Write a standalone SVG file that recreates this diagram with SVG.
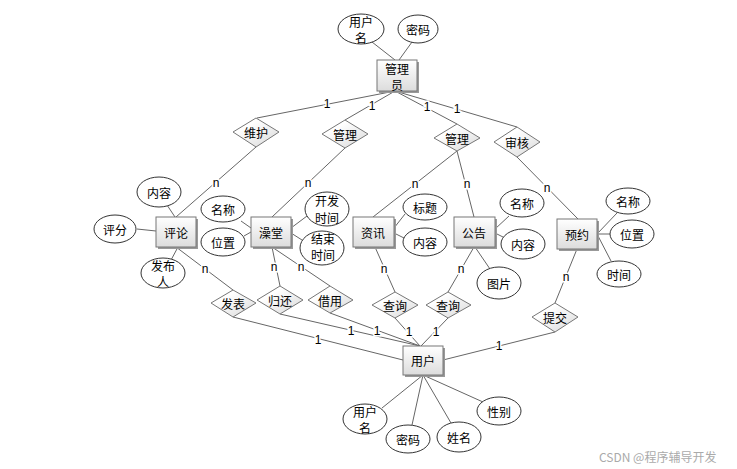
<svg xmlns="http://www.w3.org/2000/svg" width="737" height="469" viewBox="0 0 737 469">
<defs>
<linearGradient id="gb" x1="0" y1="0" x2="0" y2="1"><stop offset="0" stop-color="#ffffff"/><stop offset="1" stop-color="#dcdcdc"/></linearGradient>
<linearGradient id="gd" x1="0" y1="0" x2="1" y2="1"><stop offset="0.3" stop-color="#ffffff"/><stop offset="1" stop-color="#d8d8d8"/></linearGradient>
</defs>
<style>
text{font-family:"Noto Sans CJK SC","Microsoft YaHei",sans-serif;font-size:12px;fill:#000;text-anchor:middle;dominant-baseline:central}
.box{fill:url(#gb);stroke:#777;stroke-width:1}
.sh{fill:#999}
.dia{fill:url(#gd);stroke:#777;stroke-width:1}
.ell{fill:#fff;stroke:#333;stroke-width:1}
#connectors line{stroke:#666;stroke-width:1}
.lab{font-family:"Liberation Sans",Arial,sans-serif;font-size:12px;stroke:#fff;stroke-width:3;paint-order:stroke}
.wm{font-size:12px;fill:#aaa;text-anchor:start}
</style>
<rect width="737" height="469" fill="#fff"/>
<g id="connectors">
<line x1="372" y1="42" x2="395" y2="60"/>
<line x1="412" y1="42" x2="399" y2="60"/>
<line x1="395" y1="91" x2="257" y2="118"/>
<line x1="395" y1="91" x2="345" y2="120"/>
<line x1="395" y1="91" x2="457" y2="124"/>
<line x1="395" y1="91" x2="517" y2="127"/>
<line x1="256" y1="147" x2="176" y2="217"/>
<line x1="345" y1="148" x2="272" y2="217"/>
<line x1="457" y1="151" x2="373" y2="217"/>
<line x1="457" y1="151" x2="474" y2="217"/>
<line x1="517" y1="157" x2="578" y2="219"/>
<line x1="167" y1="205" x2="175" y2="217"/>
<line x1="137" y1="229" x2="156" y2="231"/>
<line x1="178" y1="247" x2="170" y2="262"/>
<line x1="176" y1="247" x2="233" y2="290"/>
<line x1="241" y1="221" x2="251" y2="228"/>
<line x1="244" y1="236" x2="251" y2="232"/>
<line x1="291" y1="228" x2="307" y2="216"/>
<line x1="291" y1="233" x2="302" y2="240"/>
<line x1="394" y1="228" x2="405" y2="214"/>
<line x1="394" y1="233" x2="404" y2="238"/>
<line x1="495" y1="229" x2="509" y2="216"/>
<line x1="495" y1="233" x2="503" y2="237"/>
<line x1="475" y1="247" x2="490" y2="269"/>
<line x1="597" y1="234" x2="617" y2="213"/>
<line x1="597" y1="234" x2="610" y2="234"/>
<line x1="597" y1="234" x2="611" y2="261"/>
<line x1="272" y1="247" x2="280" y2="286"/>
<line x1="272" y1="247" x2="330" y2="286"/>
<line x1="375" y1="247" x2="395" y2="292"/>
<line x1="474" y1="247" x2="448" y2="292"/>
<line x1="577" y1="249" x2="555" y2="303"/>
<line x1="233" y1="317" x2="403" y2="360"/>
<line x1="280" y1="314" x2="420" y2="346"/>
<line x1="330" y1="313" x2="420" y2="346"/>
<line x1="395" y1="318" x2="420" y2="346"/>
<line x1="448" y1="318" x2="421" y2="346"/>
<line x1="555" y1="332" x2="443" y2="360"/>
<line x1="423" y1="375" x2="382" y2="408"/>
<line x1="423" y1="375" x2="412" y2="425"/>
<line x1="423" y1="375" x2="451" y2="423"/>
<line x1="423" y1="375" x2="483" y2="402"/>
<text class="lab" x="327" y="104">1</text>
<text class="lab" x="372" y="106">1</text>
<text class="lab" x="427" y="107">1</text>
<text class="lab" x="457" y="109">1</text>
<text class="lab" x="216" y="183">n</text>
<text class="lab" x="308" y="183">n</text>
<text class="lab" x="415" y="184">n</text>
<text class="lab" x="467" y="184">n</text>
<text class="lab" x="547" y="188">n</text>
<text class="lab" x="205" y="269">n</text>
<text class="lab" x="274" y="267">n</text>
<text class="lab" x="301" y="267">n</text>
<text class="lab" x="384" y="269">n</text>
<text class="lab" x="461" y="269">n</text>
<text class="lab" x="566" y="277">n</text>
<text class="lab" x="318" y="340">1</text>
<text class="lab" x="351" y="331">1</text>
<text class="lab" x="377" y="331">1</text>
<text class="lab" x="409" y="332">1</text>
<text class="lab" x="436" y="332">1</text>
<text class="lab" x="499" y="346">1</text>
</g>
<g id="admin"><rect class="sh" x="379" y="62" width="40" height="31"/><rect class="box" x="377" y="60" width="40" height="31"/><text x="397" y="68">管理<tspan x="397" dy="16">员</tspan></text></g>
<g id="admin-username"><ellipse class="ell" cx="361" cy="29" rx="23" ry="15"/><text x="361" y="21">用户<tspan x="361" dy="16">名</tspan></text></g>
<g id="admin-password"><ellipse class="ell" cx="418" cy="29" rx="20" ry="14"/><text x="418" y="29">密码</text></g>
<g id="rel-weihu"><polygon class="dia" points="233,132 256,118 279,132 256,147"/><text x="256" y="132">维护</text></g>
<g id="rel-guanli1"><polygon class="dia" points="322,134 345,120 368,134 345,148"/><text x="345" y="134">管理</text></g>
<g id="rel-guanli2"><polygon class="dia" points="434,138 457,124 480,138 457,151"/><text x="457" y="138">管理</text></g>
<g id="rel-shenhe"><polygon class="dia" points="494,142 517,127 540,142 517,157"/><text x="517" y="142">审核</text></g>
<g id="pinglun"><rect class="sh" x="158" y="219" width="40" height="30"/><rect class="box" x="156" y="217" width="40" height="30"/><text x="176" y="232">评论</text></g>
<g id="pinglun-neirong"><ellipse class="ell" cx="159" cy="192" rx="22" ry="15"/><text x="159" y="192">内容</text></g>
<g id="pinglun-pingfen"><ellipse class="ell" cx="115" cy="229" rx="21" ry="14"/><text x="115" y="229">评分</text></g>
<g id="pinglun-faburen"><ellipse class="ell" cx="163" cy="273" rx="22" ry="15"/><text x="163" y="265">发布<tspan x="163" dy="16">人</tspan></text></g>
<g id="zaotang"><rect class="sh" x="253" y="219" width="40" height="30"/><rect class="box" x="251" y="217" width="40" height="30"/><text x="271" y="232">澡堂</text></g>
<g id="zaotang-mingcheng"><ellipse class="ell" cx="223" cy="209" rx="22" ry="13"/><text x="223" y="209">名称</text></g>
<g id="zaotang-weizhi"><ellipse class="ell" cx="223" cy="242" rx="22" ry="14"/><text x="223" y="242">位置</text></g>
<g id="zaotang-kaifa"><ellipse class="ell" cx="327" cy="209" rx="22" ry="17"/><text x="327" y="200">开发<tspan x="327" dy="17">时间</tspan></text></g>
<g id="zaotang-jieshu"><ellipse class="ell" cx="322" cy="248" rx="22" ry="17"/><text x="323" y="238">结束<tspan x="323" dy="16">时间</tspan></text></g>
<g id="zixun"><rect class="sh" x="355" y="219" width="41" height="30"/><rect class="box" x="353" y="217" width="41" height="30"/><text x="373" y="232">资讯</text></g>
<g id="zixun-biaoti"><ellipse class="ell" cx="425" cy="207" rx="22" ry="13"/><text x="425" y="207">标题</text></g>
<g id="zixun-neirong"><ellipse class="ell" cx="425" cy="242" rx="22" ry="14"/><text x="425" y="242">内容</text></g>
<g id="gonggao"><rect class="sh" x="456" y="219" width="41" height="30"/><rect class="box" x="454" y="217" width="41" height="30"/><text x="474" y="232">公告</text></g>
<g id="gonggao-mingcheng"><ellipse class="ell" cx="522" cy="203" rx="22" ry="14"/><text x="522" y="203">名称</text></g>
<g id="gonggao-neirong"><ellipse class="ell" cx="523" cy="244" rx="22" ry="15"/><text x="523" y="244">内容</text></g>
<g id="gonggao-tupian"><ellipse class="ell" cx="499" cy="283" rx="22" ry="16"/><text x="499" y="283">图片</text></g>
<g id="yuyue"><rect class="sh" x="559" y="221" width="40" height="30"/><rect class="box" x="557" y="219" width="40" height="30"/><text x="577" y="234">预约</text></g>
<g id="yuyue-mingcheng"><ellipse class="ell" cx="628" cy="201" rx="22" ry="13"/><text x="628" y="201">名称</text></g>
<g id="yuyue-weizhi"><ellipse class="ell" cx="632" cy="234" rx="22" ry="14"/><text x="632" y="234">位置</text></g>
<g id="yuyue-shijian"><ellipse class="ell" cx="619" cy="274" rx="22" ry="13"/><text x="619" y="274">时间</text></g>
<g id="rel-fabiao"><polygon class="dia" points="211,303 233,290 256,303 233,317"/><text x="233" y="303">发表</text></g>
<g id="rel-guihuan"><polygon class="dia" points="257,300 280,286 303,300 280,314"/><text x="280" y="300">归还</text></g>
<g id="rel-jieyong"><polygon class="dia" points="308,300 330,286 353,300 330,313"/><text x="330" y="300">借用</text></g>
<g id="rel-chaxun1"><polygon class="dia" points="372,305 395,292 418,305 395,318"/><text x="395" y="305">查询</text></g>
<g id="rel-chaxun2"><polygon class="dia" points="426,305 448,292 471,305 448,318"/><text x="448" y="305">查询</text></g>
<g id="rel-tijiao"><polygon class="dia" points="532,317 555,303 578,317 555,332"/><text x="555" y="317">提交</text></g>
<g id="yonghu"><rect class="sh" x="405" y="348" width="40" height="29"/><rect class="box" x="403" y="346" width="40" height="29"/><text x="423" y="360">用户</text></g>
<g id="yonghu-username"><ellipse class="ell" cx="365" cy="419" rx="22" ry="15"/><text x="365" y="411">用户<tspan x="365" dy="16">名</tspan></text></g>
<g id="yonghu-password"><ellipse class="ell" cx="408" cy="439" rx="22" ry="14"/><text x="408" y="439">密码</text></g>
<g id="yonghu-xingming"><ellipse class="ell" cx="459" cy="437" rx="22" ry="15"/><text x="459" y="437">姓名</text></g>
<g id="yonghu-xingbie"><ellipse class="ell" cx="499" cy="411" rx="22" ry="14"/><text x="499" y="411">性别</text></g>
<text class="wm" x="599" y="456">CSDN @程序辅导开发</text>
</svg>
